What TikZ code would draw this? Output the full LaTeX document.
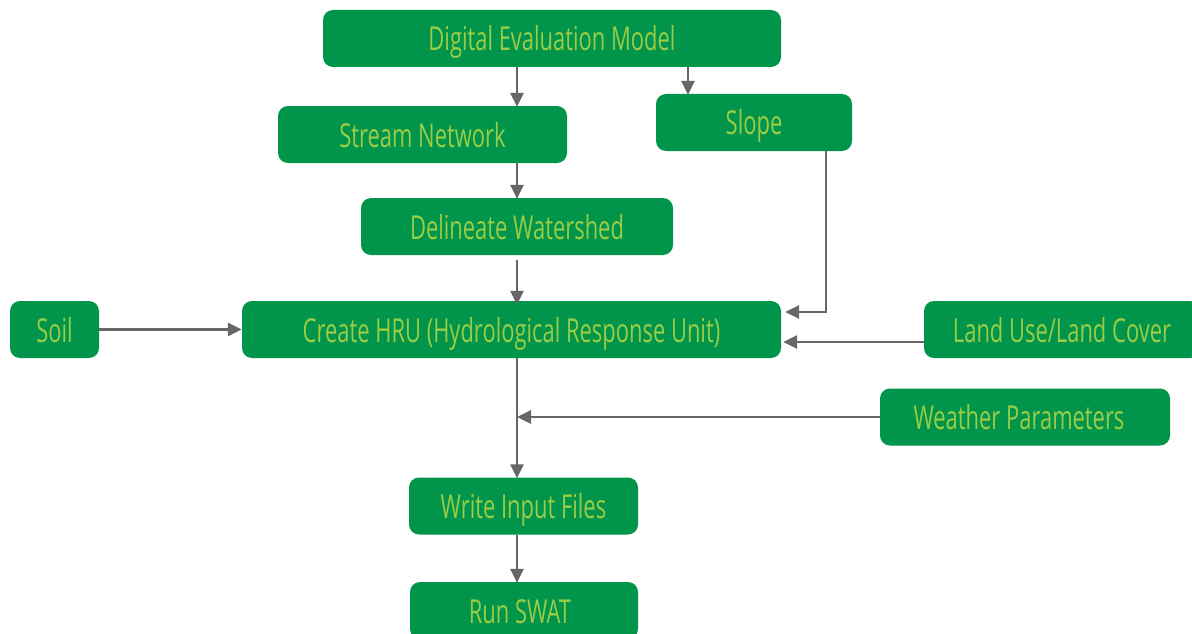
\documentclass[tikz,border=0pt]{standalone}
\usepackage{fontspec}
\setmainfont{Open Sans}[FakeStretch=0.665]
\usetikzlibrary{arrows.meta}
\definecolor{boxgreen}{HTML}{00954A}
\definecolor{txtgreen}{HTML}{9ACD45}
\definecolor{arrgray}{HTML}{666666}
\tikzset{
  box/.style={rectangle, rounded corners=10pt, fill=boxgreen, draw=none,
    text=txtgreen, inner sep=0pt, text height=25pt, text depth=0pt,
    font=\fontsize{33}{36}\selectfont},
  arr/.style={draw=arrgray, line width=2.7pt, -{Triangle[width=13pt,length=14pt]}}
}
\begin{document}
\begin{tikzpicture}[x=1pt,y=-1pt]
\useasboundingbox (0,0) rectangle (1192,634);
\node[box, minimum width=458pt, minimum height=57pt] (dem) at (552,38.5) {Digital Evaluation Model};
\node[box, minimum width=289pt, minimum height=57pt] (stream) at (422.5,134.5) {Stream Network};
\node[box, minimum width=196pt, minimum height=57pt] (slope) at (754,122.5) {Slope};
\node[box, minimum width=312pt, minimum height=57pt] (delin) at (517,226.5) {Delineate Watershed};
\node[box, minimum width=89pt, minimum height=57pt] (soil) at (54.5,329.5) {Soil};
\node[box, minimum width=539pt, minimum height=57pt] (hru) at (511.5,329.5) {Create HRU (Hydrological Response Unit)};
\node[box, minimum width=276pt, minimum height=57pt] (land) at (1062,329.5) {Land Use/Land Cover};
\node[box, minimum width=290pt, minimum height=57pt] (weather) at (1025,417) {\hspace*{-12pt}Weather Parameters};
\node[box, minimum width=229pt, minimum height=57pt] (write) at (523.5,506) {Write Input Files};
\node[box, minimum width=228pt, minimum height=57pt] (run) at (524,610.5) {\hspace*{-8pt}Run SWAT};
\coordinate (spine) at (517,0);
\coordinate (sx) at (688,0);
\coordinate (sdrop) at (826,312);
\coordinate (lly) at (0,342);
\draw[arr] (dem.south -| spine) -- ([yshift=-1pt]stream.north -| spine);
\draw[arr] (dem.south -| sx) -- ([yshift=-1pt]slope.north -| sx);
\draw[arr] (stream.south -| spine) -- ([yshift=-1pt]delin.north -| spine);
\draw[arr, shorten <=5pt] (delin.south) -- ([yshift=-4pt]hru.north -| spine);
\draw[arr] (slope.south -| sdrop) |- ([xshift=4pt]hru.east |- sdrop);
\draw[arr] (land.west |- lly) -- ([xshift=2pt]hru.east |- lly);
\draw[arr] (soil.east) -- (hru.west);
\draw[arr] (hru.south -| spine) -- ([yshift=-1pt]write.north -| spine);
\draw[arr] (weather.west) -- (weather.west -| spine);
\draw[arr] (write.south -| spine) -- ([yshift=-1pt]run.north -| spine);
\end{tikzpicture}
\end{document}
